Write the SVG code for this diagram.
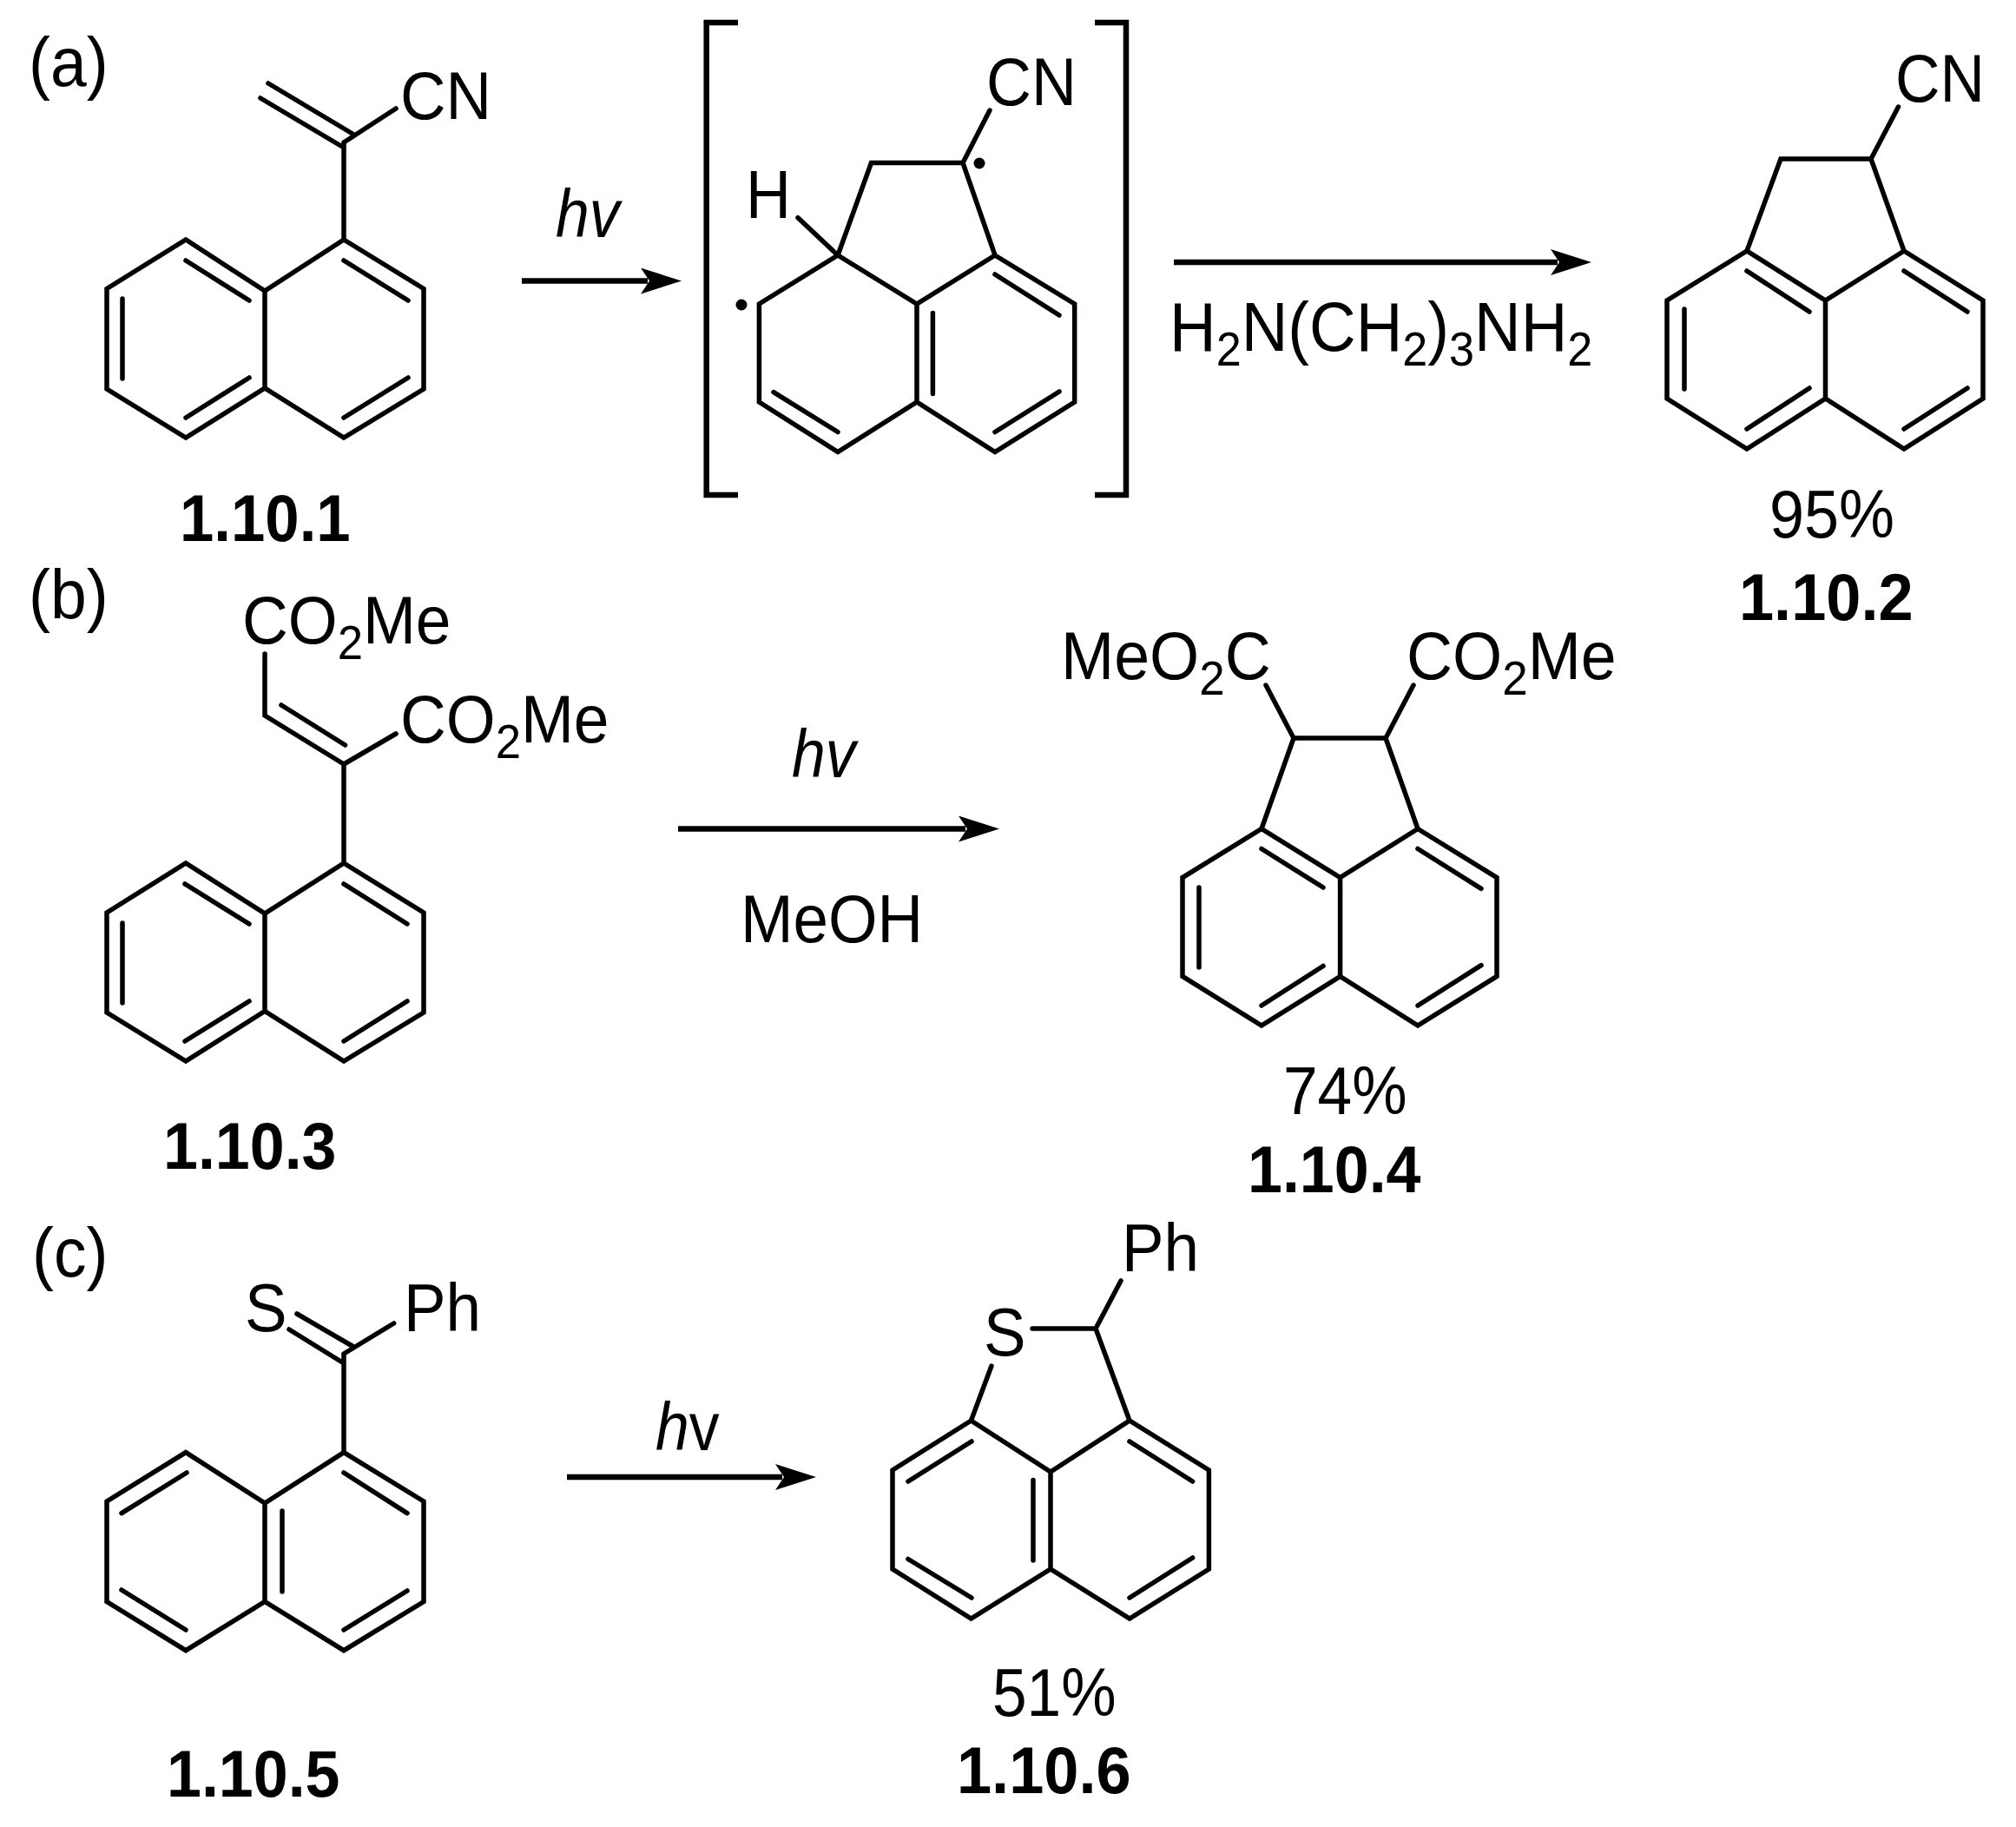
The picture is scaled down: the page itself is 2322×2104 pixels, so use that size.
<svg xmlns="http://www.w3.org/2000/svg" width="2322" height="2104" viewBox="0 0 2322 2104">
<style>
text{font-family:"Liberation Sans",Arial,sans-serif;font-size:75px;fill:#000}
.b{font-weight:bold;font-size:74px}
.i{font-style:italic}
.s{font-size:54px}
.bond{fill:none;stroke:#000;stroke-width:5.5;stroke-linecap:round;stroke-linejoin:miter}
.br{fill:none;stroke:#000;stroke-width:6.5}
.ar{fill:none;stroke:#000;stroke-width:6.5;marker-end:url(#head)}
</style>
<defs>
<marker id="head" markerUnits="userSpaceOnUse" markerWidth="48" markerHeight="30" refX="8" refY="15" orient="auto"><path d="M0 0L47 15L0 30L10 15Z" fill="#000"/></marker>
</defs>
<rect width="2322" height="2104" fill="#fff"/>
<g id="connectors">
<line class="ar" x1="601" y1="323.5" x2="746" y2="323.5"/>
<line class="ar" x1="1352" y1="302" x2="1794" y2="302"/>
<line class="ar" x1="781" y1="954.5" x2="1112" y2="954.5"/>
<line class="ar" x1="653" y1="1701" x2="901" y2="1701"/>
</g>
<g id="conditions">
<text transform="translate(640 273) scale(.93 1.03)" class="i">hv</text>
<text transform="translate(1347 403.5) scale(.965 1.03)" style="font-size:77px">H<tspan class="s" dy="17">2</tspan><tspan dy="-17">N(CH</tspan><tspan class="s" dy="17">2</tspan><tspan dy="-17">)</tspan><tspan class="s" dy="17">3</tspan><tspan dy="-17">NH</tspan><tspan class="s" dy="17">2</tspan></text>
<text transform="translate(912 895) scale(.93 1.03)" class="i">hv</text>
<text transform="translate(853 1085) scale(.97 1.03)">MeOH</text>
<text transform="translate(755 1669.5) scale(.93 1.03)"><tspan class="i">h</tspan>v</text>
</g>
<g id="part-a"><text transform="translate(33 99) scale(1 1.05)">(a)</text></g>
<g id="part-b"><text transform="translate(33 712) scale(1 1.05)">(b)</text></g>
<g id="part-c"><text transform="translate(37 1470) scale(1 1.05)">(c)</text></g>
<g id="mol-1-10-1">
<path class="bond" d="M396 276L488 332.5V448L396 504L305 447L214 504L123 448V332.5L214 276L305 335L396 276M305 335V447M141 344V436M214 300L287 346M214 481L287 435M396 300L470 346M396 481L470 435M396 276V164M396 170L300 113M406 154L309 96M396 164L456 125"/>
<text transform="translate(461 137) scale(.97 1.03)">CN</text>
<text transform="translate(207 623) scale(.956 1.03)" class="b">1.10.1</text>
</g>
<g id="mol-intermediate">
<path class="br" d="M850 26H813.7V570H850M1261 26H1297V570H1261"/>
<path class="bond" d="M965 294L1003.5 187.5H1109L1146 294L1237.7 350V463L1146 520.5L1056 463L965 520.5L874.4 463V350L965 294L1056 350L1146 294M1056 350V463M1146 316L1220 363M1074.4 360.5V453.5M1220 451L1146 497.5M891 451.6L965 497.5M1109 187.5L1140 127M965 294L919 250.7"/>
<circle cx="1128" cy="188" r="6.5"/>
<circle cx="854" cy="351" r="6.5"/>
<text transform="translate(859 250.7) scale(.96 1.03)">H</text>
<text transform="translate(1136 120.5) scale(.96 1.03)">CN</text>
</g>
<g id="mol-1-10-2">
<path class="bond" d="M2012 289L2051 183H2155L2193 289L2284 346V459L2193 517L2102.5 459L2012 517L1920 459V346L2012 289L2102.5 346L2193 289M2102.5 346V459M1940 356V448M2012 312L2084 359M2012 494L2084 447M2193 312L2266 359M2193 494L2266 447M2155 183L2186.5 123"/>
<text transform="translate(2183 117) scale(.95 1.03)">CN</text>
<text transform="translate(2038 619) scale(.96 1.03)">95%</text>
<text transform="translate(2003 713.5) scale(.975 1.03)" class="b">1.10.2</text>
</g>
<g id="mol-1-10-3">
<path class="bond" d="M396 994L488 1051V1166L396 1222L305 1164.5L214 1222L123 1166V1051L214 994L305 1052L396 994M305 1052V1164.5M141 1063V1155M213 1018L287 1064M213 1199L287 1153M396 1018L469 1064M396 1199L469 1153M305 753V824L396 880M324 812L397.5 858M396 880L456 845M396 880V994"/>
<text transform="translate(279 741) scale(.975 1.03)">CO<tspan class="s" dy="17">2</tspan><tspan dy="-17">Me</tspan></text>
<text transform="translate(461 855) scale(.975 1.03)">CO<tspan class="s" dy="17">2</tspan><tspan dy="-17">Me</tspan></text>
<text transform="translate(188 1346) scale(.97 1.03)" class="b">1.10.3</text>
</g>
<g id="mol-1-10-4">
<path class="bond" d="M1453 954.5L1490 850H1596L1633 954.5L1724 1010.6V1124.4L1633 1181L1543.6 1124.4L1453 1181L1362 1124.4V1010.6L1453 954.5L1543.6 1010.6L1633 954.5M1543.6 1010.6V1124.4M1381 1022V1114M1453 977.5L1524 1022M1453 1158L1524 1112.5M1633 977.5L1706 1023.4M1633 1158L1706 1111.6M1490 850L1458 789M1596 850L1628 789"/>
<text transform="translate(1222 782) scale(.98 1.03)">MeO<tspan class="s" dy="17">2</tspan><tspan dy="-17">C</tspan></text>
<text transform="translate(1620 782) scale(.98 1.03)">CO<tspan class="s" dy="17">2</tspan><tspan dy="-17">Me</tspan></text>
<text transform="translate(1478 1283) scale(.95 1.03)">74%</text>
<text transform="translate(1437 1373) scale(.97 1.03)" class="b">1.10.4</text>
</g>
<g id="mol-1-10-5">
<path class="bond" d="M396 1672.6L488 1729V1844.5L396 1900.7L305 1844.5L214 1900.7L123 1844.5V1729L214 1672.6L305 1731L396 1672.6M305 1731V1844.5M140 1742.6L215 1696M325 1740V1833M140 1831L214 1877M396 1696L469 1742.6M396 1877L469 1832M396 1672.6V1559M396 1559L453.6 1524M396 1570L333 1531M405.6 1550L342 1513"/>
<text transform="translate(282 1533) scale(.97 1.03)">S</text>
<text transform="translate(465 1533) scale(.97 1.03)">Ph</text>
<text transform="translate(192 2069) scale(.97 1.03)" class="b">1.10.5</text>
</g>
<g id="mol-1-10-6">
<path class="bond" d="M1142 1573L1118.5 1636L1028 1693V1807L1118.5 1864L1210 1807L1301 1864L1392.4 1807V1693L1301 1636L1210 1695L1118.5 1636M1210 1695V1807M1301 1636L1262 1530H1189M1262 1530L1291 1475M1046 1706L1119 1660M1190 1704.6V1797M1046 1795.5L1119 1840M1301 1660L1373.6 1706M1301 1840L1373.6 1794"/>
<text transform="translate(1292 1464) scale(.97 1.03)">Ph</text>
<text transform="translate(1133 1561) scale(.97 1.03)">S</text>
<text transform="translate(1143 1975.6) scale(.95 1.03)">51%</text>
<text transform="translate(1102 2065) scale(.975 1.03)" class="b">1.10.6</text>
</g>
</svg>
